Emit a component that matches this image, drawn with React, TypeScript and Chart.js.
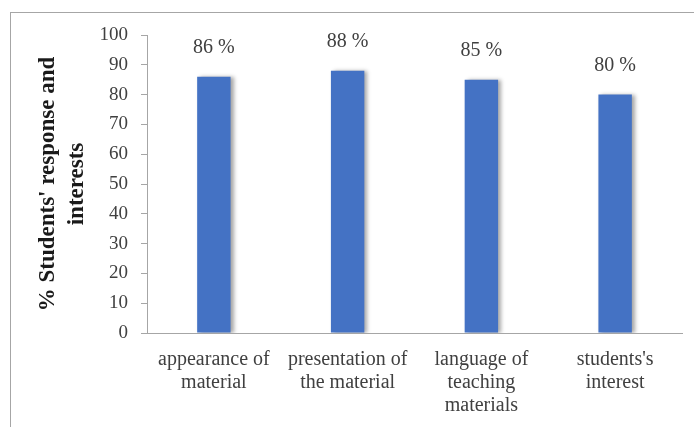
import { useEffect, useRef } from 'react';
import { Chart, registerables } from 'chart.js';

Chart.register(...registerables);

const categories: string[][] = [
  ['appearance of', 'material'],
  ['presentation of', 'the material'],
  ['language of', 'teaching', 'materials'],
  ["students's", 'interest'],
];
const values: number[] = [86, 88, 85, 80];
const valueLabels: string[] = ['86 %', '88 %', '85 %', '80 %'];
const yTitle: string[] = ["% Students' response and", 'interests'];
const yMin = 0;
const yMax = 100;
const yStep = 10;

const SERIF = '"Liberation Serif", "Times New Roman", serif';

const shadowPlugin = {
  id: 'barShadow',
  beforeDatasetDraw(chart: any) {
    const ctx = chart.ctx;
    ctx.save();
    ctx.shadowColor = 'rgba(0,0,0,0.35)';
    ctx.shadowBlur = 4;
    ctx.shadowOffsetX = 3;
    ctx.shadowOffsetY = 0;
  },
  afterDatasetDraw(chart: any) {
    chart.ctx.restore();
  },
};

const valueLabelPlugin = {
  id: 'valueLabels',
  afterDatasetsDraw(chart: any) {
    const ctx = chart.ctx;
    const meta = chart.getDatasetMeta(0);
    ctx.save();
    ctx.font = `20px ${SERIF}`;
    ctx.fillStyle = '#404040';
    ctx.textAlign = 'center';
    ctx.textBaseline = 'middle';
    meta.data.forEach((bar: any, i: number) => {
      ctx.fillText(valueLabels[i], bar.x, bar.y - 29);
    });
    ctx.restore();
  },
};

export default function App() {
  const canvasRef = useRef<HTMLCanvasElement | null>(null);

  useEffect(() => {
    if (!canvasRef.current) return;
    const chart = new Chart(canvasRef.current, {
      type: 'bar',
      data: {
        labels: categories,
        datasets: [
          {
            data: values,
            backgroundColor: '#4472C4',
            borderWidth: 0,
            barPercentage: 0.25,
            categoryPercentage: 1,
          },
        ],
      },
      options: {
        animation: false,
        responsive: true,
        maintainAspectRatio: false,
        layout: { padding: { left: 0, right: 12, top: 35, bottom: 0 } },
        plugins: {
          legend: { display: false },
          tooltip: { enabled: false },
        },
        scales: {
          x: {
            grid: { display: false, drawTicks: false },
            border: { display: true, color: '#a6a6a6', width: 1 },
            ticks: {
              font: { family: SERIF, size: 20, lineHeight: 1.15 },
              color: '#404040',
              padding: 15,
              maxRotation: 0,
              autoSkip: false,
            },
            afterFit: (s: any) => {
              s.height = 94;
            },
          },
          y: {
            min: yMin,
            max: yMax,
            ticks: {
              stepSize: yStep,
              padding: 13,
              font: { family: SERIF, size: 19 },
              color: '#404040',
            },
            grid: { drawOnChartArea: false, tickLength: 6, color: '#a6a6a6' },
            border: { display: true, color: '#a6a6a6', width: 1 },
            title: {
              display: true,
              text: yTitle,
              font: { family: SERIF, size: 23, weight: 'bold', lineHeight: 1.26 },
              color: '#1a1a1a',
              padding: { top: 34, bottom: 0 },
            },
            afterFit: (s: any) => {
              s.width = 147;
            },
          },
        },
      } as any,
      plugins: [shadowPlugin, valueLabelPlugin],
    });
    return () => chart.destroy();
  }, []);

  return (
    <div
      style={{
        position: 'fixed',
        left: 0,
        top: 0,
        width: 694,
        height: 427,
        background: '#ffffff',
        overflow: 'hidden',
      }}
    >
      <div
        style={{
          position: 'absolute',
          left: 10,
          top: 12,
          width: 800,
          height: 600,
          borderTop: '1px solid #a6a6a6',
          borderLeft: '1px solid #a6a6a6',
        }}
      />
      <div style={{ position: 'absolute', left: 0, top: 0, width: 694, height: 427 }}>
        <canvas ref={canvasRef} />
      </div>
    </div>
  );
}
